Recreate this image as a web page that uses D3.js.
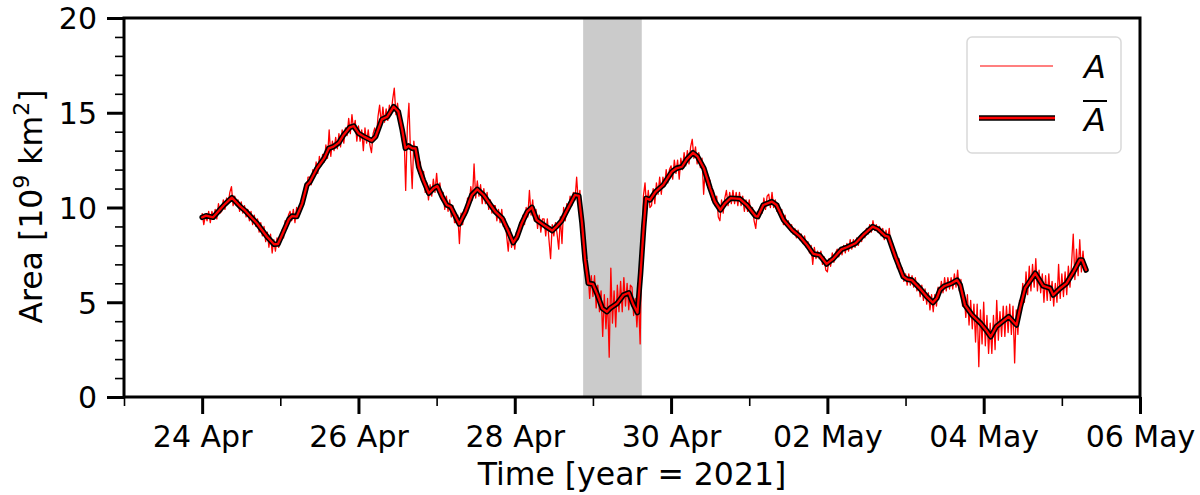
<!DOCTYPE html>
<html><head><meta charset="utf-8">
<script src="https://cdn.jsdelivr.net/npm/d3@7"></script>
<style>body{margin:0;background:#fff}svg{display:block}</style>
</head><body><svg id="c" width="1200" height="495"></svg>
<script>
// ---------------- data ----------------
const xDomain = ["2021-04-23T00:00:00Z", "2021-05-06T00:00:00Z"];
const yDomain = [0, 20];
const yMajorTicks = [0, 5, 10, 15, 20];
const shadeSpan = ["2021-04-28T21:00:00Z", "2021-04-29T15:00:00Z"];
const rawStart = "2021-04-24T00:00:00Z";
const rawStepMinutes = 30;
const rawValues = [
 9.7, 9.1, 9.6, 9.3, 9.8, 9.2,
 9.8, 9.4, 9.9, 9.4, 10.2, 9.7,
 9.8, 10.4, 9.9, 10.5, 10.2, 10.8,
 11.1, 10.1, 10.6, 10.1, 10.4, 9.8,
 10.3, 9.7, 10.1, 9.5, 9.9, 9.3,
 9.8, 9.1, 9.6, 9.0, 9.4, 8.7,
 9.2, 8.5, 9.0, 8.2, 8.7, 7.9,
 8.6, 7.6, 8.3, 7.7, 8.4, 7.9,
 8.2, 8.8, 8.4, 9.3, 8.9, 9.6,
 9.8, 9.3, 9.9, 9.2, 10.0, 9.5,
 9.7, 10.4, 10.2, 11.1, 10.7, 11.6,
 11.6, 11.2, 12.0, 11.6, 12.4, 11.8,
 12.7, 12.2, 12.8, 12.4, 13.3, 12.6,
 14.1, 12.7, 13.5, 13.0, 13.7, 13.1,
 13.9, 13.2, 14.1, 13.4, 14.2, 13.8,
 14.7, 13.9, 14.9, 14.1, 14.6, 13.5,
 14.3, 13.5, 14.1, 13.0, 14.2, 13.4,
 14.1, 13.3, 12.9, 13.9, 14.2, 13.7,
 14.8, 15.4, 14.4, 15.3, 14.5, 15.2,
 14.6, 15.4, 14.9, 15.7, 16.3, 14.9,
 15.5, 14.7, 14.8, 13.5, 13.9, 10.9,
 14.2, 15.5, 12.8, 11.0, 13.5, 12.6,
 13.2, 11.8, 12.4, 11.4, 11.9, 10.8,
 11.3, 10.4, 11.2, 10.6, 11.5, 10.8,
 11.8, 10.8, 11.3, 10.4, 10.8, 9.9,
 10.6, 9.8, 10.4, 9.5, 10.1, 9.2,
 9.2, 9.6, 8.1, 9.7, 9.1, 9.9,
 9.6, 10.5, 10.1, 11.1, 10.4, 12.3,
 10.5, 11.4, 10.6, 11.2, 10.2, 11.0,
 10.2, 10.8, 9.9, 10.4, 9.7, 10.1,
 10.1, 9.3, 9.9, 9.2, 9.9, 9.0,
 9.4, 8.5, 7.7, 8.9, 7.9, 8.4,
 7.8, 8.7, 8.3, 9.2, 8.8, 9.6,
 9.1, 10.0, 9.5, 10.9, 9.6, 10.4,
 9.3, 9.9, 8.9, 9.6, 8.7, 9.4,
 9.4, 8.5, 9.4, 8.3, 7.3, 9.1,
 8.5, 9.2, 8.6, 7.8, 9.5, 8.1,
 10.0, 9.3, 10.2, 9.8, 10.6, 10.1,
 10.8, 10.4, 11.6, 10.3, 10.9, 8.7,
 9.0, 6.8, 7.3, 6.6, 5.2, 6.4,
 5.3, 6.4, 4.7, 5.9, 4.5, 5.6,
 3.2, 5.4, 3.6, 5.2, 2.1, 6.8,
 3.9, 5.6, 3.7, 5.9, 4.5, 6.1,
 4.5, 6.3, 4.8, 6.0, 4.6, 5.9,
 5.8, 4.3, 5.2, 3.7, 5.2, 2.8,
 7.9, 10.6, 11.3, 9.9, 10.9, 10.0,
 10.1, 11.0, 10.2, 11.3, 10.7, 11.6,
 10.7, 11.6, 11.1, 12.0, 11.3, 12.0,
 12.2, 11.5, 12.5, 11.8, 12.5, 11.5,
 12.6, 12.0, 12.9, 12.2, 13.0, 12.3,
 13.2, 13.6, 12.6, 13.2, 12.3, 12.9,
 12.1, 12.6, 10.7, 12.1, 11.2, 11.6,
 11.4, 10.4, 10.9, 10.1, 10.6, 9.5,
 9.3, 10.4, 9.7, 10.5, 10.9, 10.1,
 10.8, 10.2, 10.9, 10.2, 10.8, 10.1,
 10.8, 10.1, 10.6, 9.8, 10.4, 9.8,
 10.4, 9.7, 10.0, 9.3, 8.9, 9.8,
 9.4, 10.1, 9.7, 10.5, 9.9, 10.6,
 10.7, 10.0, 10.8, 10.0, 10.4, 9.8,
 10.2, 9.6, 9.9, 9.1, 9.6, 9.0,
 9.3, 8.8, 9.1, 8.6, 8.9, 8.4,
 8.8, 8.3, 8.6, 8.1, 8.5, 7.9,
 8.2, 7.6, 8.0, 7.0, 7.9, 7.3,
 7.7, 7.3, 7.7, 7.0, 7.4, 6.7,
 6.6, 7.3, 6.9, 7.6, 7.1, 7.6,
 7.8, 7.4, 7.9, 7.5, 8.0, 7.6,
 8.1, 7.7, 8.3, 7.8, 8.3, 7.9,
 8.4, 8.0, 8.5, 8.2, 8.7, 8.4,
 8.9, 8.6, 9.1, 8.7, 9.3, 8.8,
 9.1, 8.7, 9.0, 8.5, 8.9, 8.3,
 8.8, 8.3, 8.9, 7.8, 8.1, 7.3,
 7.6, 6.8, 7.3, 6.5, 6.8, 6.1,
 6.5, 5.9, 6.5, 5.9, 6.4, 5.8,
 6.3, 5.6, 6.0, 5.3, 5.9, 5.1,
 5.7, 4.9, 5.5, 4.6, 5.4, 4.5,
 5.4, 4.8, 5.8, 5.4, 6.1, 5.5,
 6.3, 5.6, 6.3, 5.7, 6.3, 5.7,
 6.5, 5.8, 6.7, 5.6, 6.2, 4.8,
 5.5, 4.2, 5.4, 3.8, 5.1, 3.6,
 4.9, 2.9, 4.9, 1.6, 4.6, 2.8,
 5.0, 2.7, 4.3, 2.3, 3.9, 2.3,
 4.3, 2.5, 5.1, 3.0, 4.5, 3.2,
 4.8, 3.2, 4.8, 3.4, 4.9, 3.3,
 4.8, 1.8, 4.6, 3.3, 5.1, 4.7,
 6.0, 5.0, 6.6, 5.4, 6.9, 5.6,
 7.0, 5.8, 7.3, 5.6, 6.7, 5.5,
 6.5, 5.0, 6.4, 5.1, 6.5, 5.1,
 6.1, 4.8, 6.0, 5.0, 7.0, 5.2,
 6.5, 5.3, 6.6, 5.4, 6.9, 5.8,
 7.1, 8.6, 6.2, 7.8, 6.4, 8.3,
 6.6, 7.7, 6.6, 6.9
];
// running mean: days since 24 Apr 2021 00:00 UTC, and value
const smoothDays = [0.00,0.05,0.14,0.28,0.38,0.49,0.55,0.70,0.83,0.92,0.97,1.04,1.11,1.15,1.21,1.28,1.34,1.38,1.47,1.56,1.62,1.68,1.75,1.81,1.89,1.94,2.00,2.07,2.17,2.22,2.30,2.37,2.45,2.51,2.56,2.60,2.64,2.69,2.73,2.77,2.83,2.90,2.96,3.01,3.07,3.13,3.18,3.29,3.37,3.45,3.52,3.60,3.75,3.84,3.92,3.98,4.03,4.09,4.16,4.22,4.28,4.39,4.48,4.54,4.60,4.67,4.77,4.82,4.86,4.90,4.94,5.00,5.05,5.12,5.18,5.22,5.31,5.39,5.46,5.52,5.57,5.61,5.65,5.68,5.73,5.80,5.90,6.01,6.07,6.14,6.20,6.28,6.34,6.42,6.50,6.56,6.63,6.69,6.76,6.88,6.97,7.08,7.11,7.18,7.29,7.35,7.44,7.55,7.65,7.74,7.82,7.90,7.99,8.08,8.18,8.25,8.36,8.46,8.58,8.65,8.74,8.78,8.87,8.97,9.02,9.08,9.19,9.27,9.35,9.40,9.44,9.50,9.59,9.66,9.70,9.76,9.85,9.96,10.03,10.09,10.16,10.32,10.42,10.47,10.53,10.66,10.76,10.85,10.89,10.98,11.06,11.15,11.23,11.26,11.31];
const smoothValues = [9.48,9.57,9.48,10.13,10.52,10.04,9.83,9.17,8.46,8.06,8.07,8.72,9.38,9.55,9.52,10.22,11.19,11.36,12.07,12.59,13.12,13.21,13.42,13.83,14.23,14.30,13.92,13.74,13.53,13.74,14.65,14.79,15.32,15.06,14.09,13.12,13.25,13.12,13.12,12.15,11.45,10.75,11.01,11.13,10.57,10.13,10.04,9.13,9.78,10.66,10.96,10.66,9.78,9.43,8.72,8.14,8.46,9.17,9.78,10.01,9.34,9.02,8.78,9.02,9.30,9.87,10.66,10.61,9.17,7.23,6.00,5.96,5.47,4.68,4.50,4.68,4.94,5.38,5.50,4.85,4.45,6.53,8.99,10.49,10.40,10.83,11.19,11.89,12.07,12.15,12.54,12.89,12.68,12.07,11.01,10.31,9.87,10.22,10.49,10.46,10.13,9.55,9.52,10.13,10.31,10.13,9.34,8.81,8.46,8.02,7.55,7.49,7.02,7.32,7.79,7.90,8.11,8.55,8.99,8.85,8.50,8.46,7.40,6.35,6.21,6.17,5.70,5.30,4.98,5.21,5.65,5.86,6.00,6.17,5.91,4.85,4.33,3.89,3.54,3.18,3.71,4.24,3.80,4.77,5.74,6.53,5.86,5.74,5.38,5.74,6.00,6.61,7.23,7.23,6.70];
const xLabel = "Time [year = 2021]";
const legendNames = ["A", "A"];

// ---------------- layout ----------------
const W = 1200, H = 495;
const L = 124, R = 1140, T = 18, B = 397;
const FONT = "DejaVu Sans, Liberation Sans, sans-serif";

const svg = d3.select("#c");
const x = d3.scaleUtc().domain(xDomain.map(d => new Date(d))).range([L, R]);
const y = d3.scaleLinear().domain(yDomain).range([B, T]);

const t0 = new Date(rawStart).getTime();
const raw = rawValues.map((v, i) => ({t: new Date(t0 + i * rawStepMinutes * 60000), v}));
const smooth = smoothValues.map((v, i) => ({t: new Date(t0 + smoothDays[i] * 86400000), v}));

// shaded interval
svg.append("rect")
  .attr("x", x(new Date(shadeSpan[0]))).attr("y", T)
  .attr("width", x(new Date(shadeSpan[1])) - x(new Date(shadeSpan[0])))
  .attr("height", B - T).attr("fill", "#cbcbcb");

const line = d3.line().x(d => x(d.t)).y(d => y(d.v));
svg.append("path").datum(raw).attr("d", line)
  .attr("fill", "none").attr("stroke", "#ff0000").attr("stroke-width", 1.3)
  .attr("stroke-linejoin", "round");
svg.append("path").datum(smooth).attr("d", line)
  .attr("fill", "none").attr("stroke", "#000").attr("stroke-width", 5.5)
  .attr("stroke-linejoin", "round").attr("stroke-linecap", "round");
svg.append("path").datum(smooth).attr("d", line)
  .attr("fill", "none").attr("stroke", "#ff0000").attr("stroke-width", 2.3)
  .attr("stroke-linejoin", "round").attr("stroke-linecap", "round");

// axes
const dayMs = 86400000;
const xStart = new Date(xDomain[0]).getTime(), xEnd = new Date(xDomain[1]).getTime();
const allDays = d3.range(xStart, xEnd + 1, dayMs).map(d => new Date(d));
const majorX = allDays.filter((d, i) => i % 2 === 1);
const minorX = allDays.filter((d, i) => i % 2 === 0);
const minorY = d3.range(yDomain[0], yDomain[1] + 1, 1).filter(v => v % 5 !== 0);

function styleAxis(g, w) {
  g.select(".domain").remove();
  g.selectAll("line").attr("stroke", "#000").attr("stroke-width", w);
}
const gx = svg.append("g").attr("transform", `translate(0,${B})`)
  .call(d3.axisBottom(x).tickValues(majorX).tickSize(17).tickSizeOuter(0).tickFormat(d3.utcFormat("%d %b")));
styleAxis(gx, 3);
gx.selectAll("text").attr("y", 50).attr("dy", 0).attr("font-size", 30).attr("font-family", FONT).attr("fill", "#000");
const gxm = svg.append("g").attr("transform", `translate(0,${B})`)
  .call(d3.axisBottom(x).tickValues(minorX).tickSize(9).tickSizeOuter(0).tickFormat(""));
styleAxis(gxm, 1.6);

const gy = svg.append("g").attr("transform", `translate(${L},0)`)
  .call(d3.axisLeft(y).tickValues(yMajorTicks).tickSize(17).tickPadding(10).tickSizeOuter(0));
styleAxis(gy, 3);
gy.selectAll("text").attr("dy", "0.36em").attr("font-size", 30).attr("font-family", FONT).attr("fill", "#000");
const gym = svg.append("g").attr("transform", `translate(${L},0)`)
  .call(d3.axisLeft(y).tickValues(minorY).tickSize(9).tickSizeOuter(0).tickFormat(""));
styleAxis(gym, 1.6);

// frame
svg.append("rect").attr("x", L).attr("y", T).attr("width", R - L).attr("height", B - T)
  .attr("fill", "none").attr("stroke", "#000").attr("stroke-width", 3);

// axis labels
svg.append("text").attr("x", (L + R) / 2).attr("y", 485).attr("text-anchor", "middle")
  .attr("font-size", 31.5).attr("font-family", FONT).attr("fill", "#000").text(xLabel);
const yl = svg.append("text").attr("transform", `translate(42,${(T + B) / 2 - 1}) rotate(-90)`)
  .attr("text-anchor", "middle").attr("font-size", 31.5).attr("font-family", FONT).attr("fill", "#000");
yl.append("tspan").text("Area [10");
yl.append("tspan").attr("font-size", 22).attr("dy", -13).text("9");
yl.append("tspan").attr("dy", 13).text(" km");
yl.append("tspan").attr("font-size", 22).attr("dy", -13).text("2");
yl.append("tspan").attr("dy", 13).text("]");

// legend
const lg = svg.append("g");
lg.append("rect").attr("x", 967).attr("y", 37).attr("width", 154).attr("height", 116).attr("rx", 5)
  .attr("fill", "#fff").attr("fill-opacity", 0.8).attr("stroke", "#d9d9d9").attr("stroke-width", 1.5);
lg.append("line").attr("x1", 980).attr("x2", 1053).attr("y1", 66).attr("y2", 66)
  .attr("stroke", "#ff0000").attr("stroke-width", 1.1);
lg.append("line").attr("x1", 979).attr("x2", 1055).attr("y1", 118).attr("y2", 118)
  .attr("stroke", "#000").attr("stroke-width", 5.5);
lg.append("line").attr("x1", 979).attr("x2", 1055).attr("y1", 118).attr("y2", 118)
  .attr("stroke", "#ff0000").attr("stroke-width", 2.3);
lg.append("text").attr("x", 1095).attr("y", 78).attr("text-anchor", "middle")
  .attr("font-size", 32).attr("font-style", "italic").attr("font-family", FONT).text(legendNames[0]);
lg.append("text").attr("x", 1095).attr("y", 131).attr("text-anchor", "middle")
  .attr("font-size", 32).attr("font-style", "italic").attr("font-family", FONT).text(legendNames[1]);
lg.append("line").attr("x1", 1083).attr("x2", 1107).attr("y1", 101).attr("y2", 101)
  .attr("stroke", "#000").attr("stroke-width", 2);
</script></body></html>
